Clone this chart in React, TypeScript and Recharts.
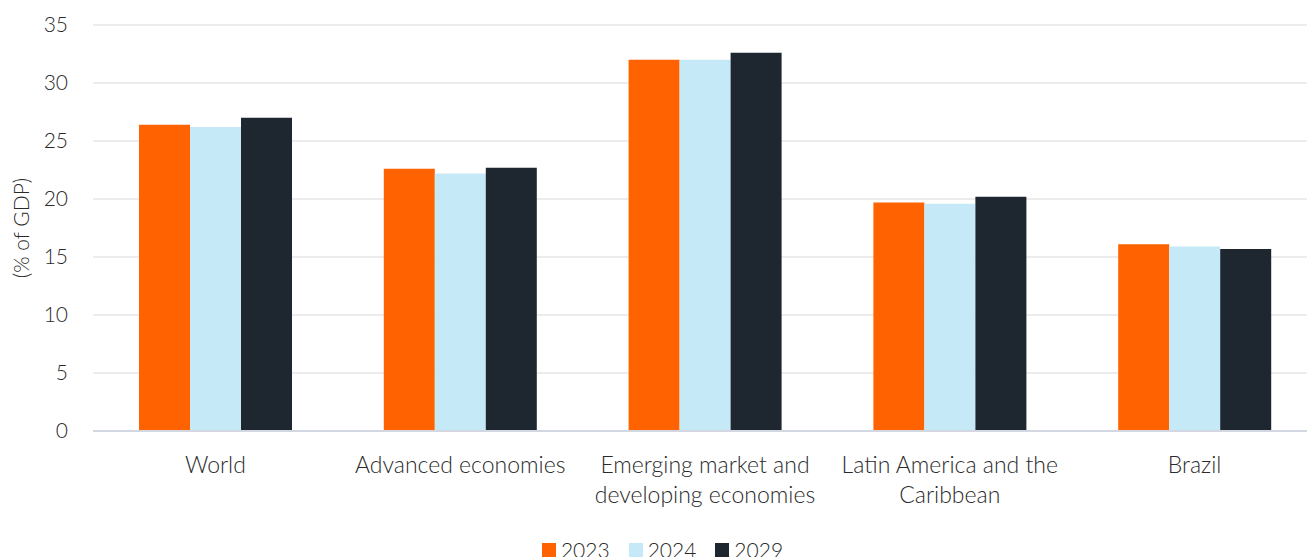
import { BarChart, Bar, XAxis, YAxis, CartesianGrid, Legend } from "recharts";

// category labels, already broken into the lines shown under the axis
const categoryLines = [
  ["World"],
  ["Advanced economies"],
  ["Emerging market and", "developing economies"],
  ["Latin America and the", "Caribbean"],
  ["Brazil"],
];
const categories = categoryLines.map((l) => l.join(" "));
const y2023 = [26.4, 22.6, 32.0, 19.7, 16.1];
const y2024 = [26.2, 22.2, 32.0, 19.6, 15.9];
const y2029 = [27.0, 22.7, 32.6, 20.2, 15.7];
const yTicks = [0, 5, 10, 15, 20, 25, 30, 35];

const series = [
  { key: "y2023", name: "2023", color: "#ff6200" },
  { key: "y2024", name: "2024", color: "#c5e9f6" },
  { key: "y2029", name: "2029", color: "#1e2630" },
];

const data = categories.map((c, i) => ({
  name: c,
  y2023: y2023[i],
  y2024: y2024[i],
  y2029: y2029[i],
}));

const font = "Lato, sans-serif";
const textColor = "#2a2a2a";

function CategoryTick(props: any) {
  const { x, y, index } = props;
  const lines = categoryLines[index] || [props.payload.value];
  return (
    <text
      x={x}
      y={y}
      textAnchor="middle"
      fontSize={23}
      fontFamily={font}
      fontWeight={300}
      fill={textColor}
    >
      {lines.map((line, i) => (
        <tspan key={i} x={x} dy={i === 0 ? 34 : 30}>
          {line}
        </tspan>
      ))}
    </text>
  );
}

function LegendContent() {
  return (
    <div
      style={{
        display: "flex",
        justifyContent: "center",
        gap: 19,
        paddingTop: 2,
        fontFamily: font,
        fontWeight: 300,
        fontSize: 21,
        color: textColor,
        paddingLeft: 8,
      }}
    >
      {series.map((s) => (
        <div key={s.key} style={{ display: "flex", alignItems: "center", gap: 5 }}>
          <span style={{ width: 14, height: 14, background: s.color, display: "inline-block" }} />
          <span>{s.name}</span>
        </div>
      ))}
    </div>
  );
}

export default function App() {
  return (
    <div style={{ position: "absolute", left: 0, top: 0, width: 1307, height: 557, overflow: "hidden", background: "#fff" }}>
      <BarChart
        width={1317}
        height={575}
        data={data}
        margin={{ top: 25, right: 0, bottom: 0, left: 0 }}
        barCategoryGap={46}
        barGap={0}
      >
        <CartesianGrid vertical={false} stroke="#e6e6e6" strokeWidth={1.5} />
        <XAxis
          dataKey="name"
          height={104}
          tickLine={false}
          axisLine={{ stroke: "#d3d7e2", strokeWidth: 2 }}
          interval={0}
          tick={<CategoryTick />}
        />
        <YAxis
          width={93}
          domain={[0, 35]}
          ticks={yTicks}
          axisLine={false}
          tickLine={false}
          tickSize={0}
          tickMargin={25}
          tick={{ fontSize: 21, fontFamily: font, fontWeight: 300, fill: textColor }}
          label={{
            value: "(% of GDP)",
            angle: -90,
            position: "insideLeft",
            offset: 22,
            style: { textAnchor: "middle", fontSize: 21, fontFamily: font, fontWeight: 300, fill: textColor },
          }}
        />
        <Legend verticalAlign="bottom" height={40} content={<LegendContent />} />
        {series.map((s) => (
          <Bar key={s.key} dataKey={s.key} name={s.name} fill={s.color} isAnimationActive={false} />
        ))}
      </BarChart>
    </div>
  );
}
